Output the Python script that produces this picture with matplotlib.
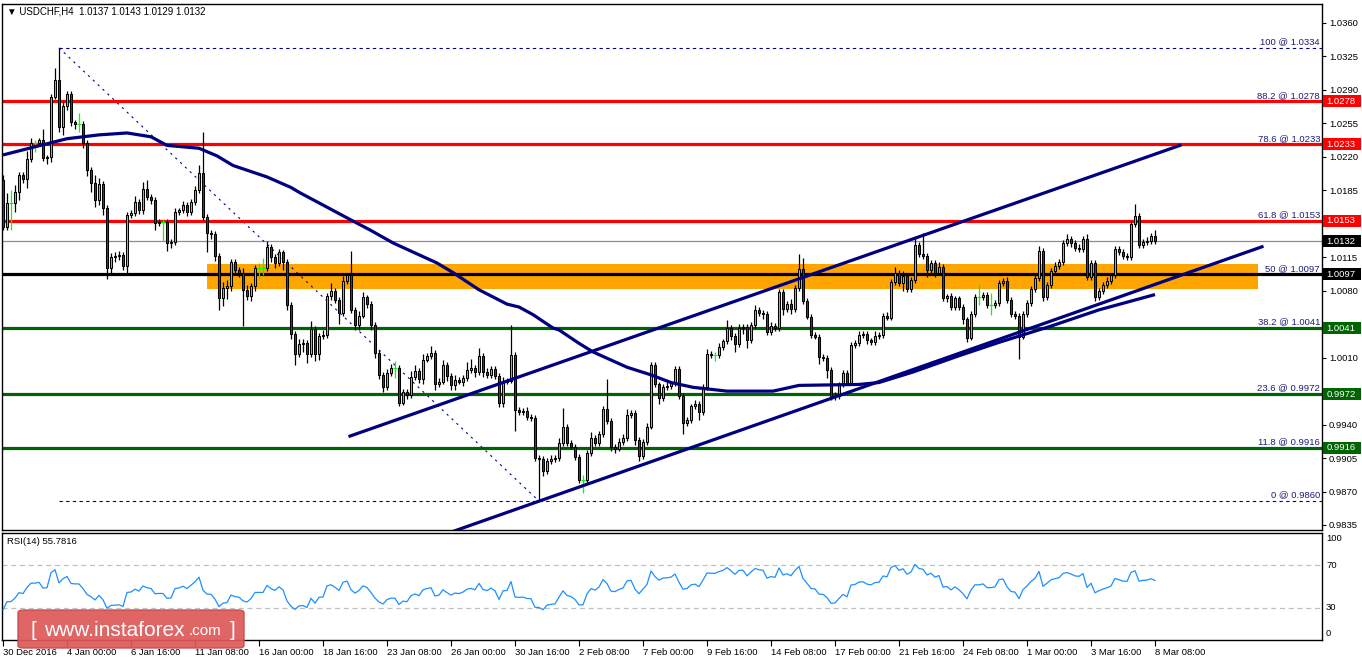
import matplotlib
matplotlib.use("Agg")
import matplotlib.pyplot as plt
import matplotlib.transforms as mtransforms
from matplotlib.patches import Rectangle, FancyBboxPatch
import numpy as np

plt.rcParams['font.family'] = ['Liberation Sans', 'DejaVu Sans']

# ---------------- data ----------------
symbol_header = "\u25BC USDCHF,H4  1.0137 1.0143 1.0129 1.0132"
first_open = 1.0196
closes = [
    1.0147, 1.0172, 1.0172, 1.0183, 1.0201, 1.0197, 1.0218, 1.0235, 1.0235, 1.0238,
    1.0219, 1.0220, 1.0283, 1.0300, 1.0251, 1.0273, 1.0286, 1.0256, 1.0254, 1.0254,
    1.0234, 1.0206, 1.0193, 1.0175, 1.0192, 1.0167, 1.0104, 1.0115, 1.0116, 1.0117,
    1.0106, 1.0159, 1.0161, 1.0173, 1.0164, 1.0186, 1.0178, 1.0175, 1.0151, 1.0152,
    1.0152, 1.0130, 1.0131, 1.0162, 1.0164, 1.0170, 1.0162, 1.0173, 1.0185, 1.0203,
    1.0157, 1.0140, 1.0139, 1.0116, 1.0072, 1.0083, 1.0085, 1.0110, 1.0102, 1.0099,
    1.0081, 1.0075, 1.0085, 1.0104, 1.0104, 1.0104, 1.0126, 1.0115, 1.0109, 1.0120,
    1.0110, 1.0065, 1.0035, 1.0014, 1.0024, 1.0025, 1.0014, 1.0040, 1.0014, 1.0033,
    1.0034, 1.0075, 1.0080, 1.0070, 1.0057, 1.0090, 1.0096, 1.0060, 1.0044, 1.0054,
    1.0073, 1.0066, 1.0044, 1.0015, 0.9992, 0.9979, 0.9994, 0.9999, 0.9999, 0.9963,
    0.9974, 0.9971, 0.9990, 0.9996, 0.9988, 1.0008, 1.0012, 1.0015, 0.9982, 0.9985,
    1.0002, 0.9991, 0.9981, 0.9987, 0.9985, 0.9989, 0.9997, 0.9999, 0.9995, 1.0012,
    0.9995, 0.9992, 0.9998, 0.9991, 0.9963, 0.9985, 0.9986, 1.0013, 0.9955, 0.9953,
    0.9954, 0.9948, 0.9947, 0.9905, 0.9904, 0.9891, 0.9902, 0.9904, 0.9905, 0.9921,
    0.9938, 0.9921, 0.9917, 0.9906, 0.9882, 0.9882, 0.9910, 0.9926, 0.9921, 0.9930,
    0.9956, 0.9944, 0.9917, 0.9915, 0.9922, 0.9926, 0.9950, 0.9952, 0.9924, 0.9907,
    0.9922, 0.9938, 1.0002, 0.9982, 0.9968, 0.9979, 0.9980, 0.9983, 0.9998, 0.9970,
    0.9942, 0.9945, 0.9959, 0.9962, 0.9953, 0.9979, 1.0014, 1.0013, 1.0013, 1.0021,
    1.0027, 1.0041, 1.0033, 1.0024, 1.0041, 1.0042, 1.0028, 1.0044, 1.0060, 1.0057,
    1.0056, 1.0037, 1.0043, 1.0041, 1.0079, 1.0061, 1.0066, 1.0061, 1.0083, 1.0103,
    1.0069, 1.0053, 1.0034, 1.0032, 1.0011, 1.0010, 0.9997, 0.9969, 0.9970, 0.9982,
    0.9994, 0.9984, 1.0023, 1.0025, 1.0034, 1.0035, 1.0028, 1.0026, 1.0033, 1.0034,
    1.0054, 1.0052, 1.0089, 1.0099, 1.0088, 1.0095, 1.0082, 1.0091, 1.0128, 1.0118,
    1.0116, 1.0102, 1.0109, 1.0099, 1.0105, 1.0072, 1.0074, 1.0063, 1.0072, 1.0063,
    1.0050, 1.0031, 1.0056, 1.0073, 1.0073, 1.0076, 1.0065, 1.0065, 1.0067, 1.0088,
    1.0090, 1.0070, 1.0056, 1.0054, 1.0032, 1.0056, 1.0067, 1.0082, 1.0093, 1.0122,
    1.0073, 1.0086, 1.0101, 1.0106, 1.0110, 1.0130, 1.0134, 1.0130, 1.0125, 1.0124,
    1.0134, 1.0094, 1.0109, 1.0073, 1.0080, 1.0086, 1.0090, 1.0096, 1.0124, 1.0120,
    1.0116, 1.0115, 1.0150, 1.0158, 1.0128, 1.0131, 1.0132, 1.0137, 1.0132,
]
# upper / lower wick lengths in pips
upper_wick = [
    5, 10, 13, 8, 3, 3, 8, 5, 3, 2,
    11, 2, 3, 13, 34, 5, 3, 3, 3, 12,
    3, 4, 3, 8, 6, 3, 3, 4, 5, 5,
    4, 3, 3, 6, 3, 8, 10, 3, 3, 3,
    3, 3, 3, 5, 3, 4, 3, 3, 5, 8,
    43, 3, 3, 3, 3, 6, 6, 3, 3, 3,
    5, 5, 3, 3, 5, 10, 6, 3, 3, 4,
    3, 3, 3, 3, 5, 5, 3, 8, 3, 3,
    5, 3, 8, 3, 3, 5, 3, 26, 3, 5,
    6, 3, 3, 3, 3, 3, 4, 4, 7, 3,
    3, 3, 6, 6, 3, 6, 3, 7, 3, 4,
    6, 3, 3, 5, 3, 3, 8, 10, 3, 8,
    3, 4, 3, 3, 3, 5, 3, 31, 3, 3,
    3, 4, 3, 3, 3, 3, 3, 4, 3, 5,
    19, 3, 3, 3, 3, 5, 3, 6, 3, 3,
    3, 32, 3, 3, 4, 4, 6, 3, 3, 3,
    3, 4, 3, 3, 3, 3, 5, 3, 3, 3,
    3, 3, 3, 4, 3, 3, 5, 3, 3, 4,
    3, 8, 3, 3, 4, 3, 3, 3, 5, 3,
    3, 3, 4, 3, 3, 3, 3, 5, 3, 15,
    11, 3, 3, 3, 3, 3, 3, 3, 4, 3,
    3, 3, 3, 3, 4, 3, 3, 3, 5, 3,
    3, 4, 3, 6, 3, 6, 3, 3, 8, 3,
    22, 3, 3, 3, 5, 3, 3, 4, 3, 3,
    3, 3, 3, 4, 14, 3, 3, 13, 3, 3,
    3, 4, 3, 3, 3, 3, 3, 3, 3, 5,
    3, 3, 3, 4, 3, 3, 5, 3, 3, 4,
    3, 5, 3, 3, 3, 3, 4, 3, 3, 3,
    4, 3, 3, 13, 3, 3, 4, 3, 6,
]
lower_wick = [
    4, 4, 29, 10, 8, 4, 10, 3, 10, 4,
    3, 6, 5, 3, 5, 8, 4, 4, 5, 8,
    5, 6, 10, 7, 5, 8, 12, 8, 5, 4,
    4, 8, 3, 3, 4, 4, 3, 4, 8, 3,
    20, 8, 5, 3, 3, 3, 4, 3, 3, 3,
    3, 20, 5, 5, 12, 8, 12, 5, 5, 5,
    38, 5, 6, 5, 12, 8, 3, 5, 5, 3,
    8, 5, 5, 12, 3, 8, 10, 3, 8, 6,
    3, 3, 5, 3, 12, 3, 3, 3, 5, 5,
    3, 4, 5, 5, 4, 5, 3, 3, 10, 4,
    3, 4, 3, 3, 5, 6, 3, 3, 6, 3,
    3, 5, 5, 5, 3, 5, 3, 3, 5, 3,
    5, 3, 3, 3, 5, 5, 3, 3, 22, 3,
    3, 3, 3, 3, 44, 5, 3, 3, 3, 3,
    3, 3, 3, 3, 3, 14, 3, 3, 3, 3,
    3, 3, 5, 5, 3, 3, 3, 3, 5, 5,
    3, 3, 3, 3, 6, 3, 3, 3, 3, 3,
    12, 3, 3, 3, 8, 3, 3, 3, 6, 3,
    3, 3, 5, 8, 3, 6, 8, 3, 3, 3,
    6, 3, 3, 3, 3, 6, 3, 5, 3, 3,
    3, 3, 3, 3, 8, 3, 8, 3, 3, 3,
    3, 3, 3, 3, 3, 3, 4, 3, 3, 3,
    3, 3, 3, 3, 3, 8, 3, 3, 3, 3,
    3, 8, 3, 5, 3, 3, 4, 3, 3, 3,
    5, 5, 3, 3, 8, 3, 3, 10, 3, 3,
    3, 3, 3, 4, 23, 3, 3, 3, 3, 3,
    4, 3, 3, 3, 3, 3, 3, 4, 3, 3,
    3, 3, 3, 4, 3, 3, 3, 3, 3, 3,
    3, 3, 3, 3, 3, 3, 3, 3, 3,
]

# moving average (at bar positions)
ma_bars = [0, 7.5, 16, 24, 31, 37, 41, 49, 53.5, 57.5, 66, 72, 74, 87, 92, 97.5,
           108.5, 112.5, 119, 126, 129, 132.5, 137.5, 139, 144, 147.5, 156, 162,
           167, 172.5, 181, 192.5, 199, 214, 219, 227.5, 239, 249, 262, 274, 288]
ma_values = [1.0222, 1.0230, 1.0239, 1.0243, 1.0245, 1.0241, 1.0232, 1.0229, 1.0221,
             1.0211, 1.0199, 1.0188, 1.0183, 1.0154, 1.0143, 1.0130, 1.0109, 1.0099,
             1.0081, 1.0066, 1.0063, 1.0055, 1.0041, 1.0039, 1.0025, 1.0016, 1.0000,
             0.9992, 0.9984, 0.9979, 0.9975, 0.9975, 0.9981, 0.9982, 0.9984, 0.9995,
             1.0012, 1.0026, 1.0043, 1.0060, 1.0076]

# channel trend lines (bar, price) end points
upper_channel_bars = [86.75, 294.25]
upper_channel_prices = [0.9928, 1.0232]
lower_channel_bars = [113, 314.75]
lower_channel_prices = [0.9829, 1.0126]

# fibonacci
fib_start_bar, fib_end_bar = 14, 134
fib_levels = ["100", "88.2", "78.6", "61.8", "50", "38.2", "23.6", "11.8", "0"]
fib_prices = [1.0334, 1.0278, 1.0233, 1.0153, 1.0097, 1.0041, 0.9972, 0.9916, 0.9860]
fib_colors = [None, '#FF0000', '#FF0000', '#FF0000', '#000000', '#006400', '#006400', '#006400', None]

current_price = 1.0132
zone_low, zone_high = 1.0082, 1.0108
zone_start_bar, zone_end_bar = 51, 313.75

price_ticks = [1.0360, 1.0325, 1.0290, 1.0255, 1.0220, 1.0185, 1.0150, 1.0115,
               1.0080, 1.0045, 1.0010, 0.9975, 0.9940, 0.9905, 0.9870, 0.9835]
price_tick_labels = ["1.0360", "1.0325", "1.0290", "1.0255", "1.0220", "1.0185", "",
                     "1.0115", "1.0080", "", "1.0010", "0.9975", "0.9940", "0.9905",
                     "0.9870", "0.9835"]
time_tick_bars = [0, 16, 32, 48, 64, 80, 96, 112, 128, 144, 160, 176, 192, 208,
                  224, 240, 256, 272, 288]
time_tick_labels = ["30 Dec 2016", "4 Jan 00:00", "6 Jan 16:00", "11 Jan 08:00",
                    "16 Jan 00:00", "18 Jan 16:00", "23 Jan 08:00", "26 Jan 00:00",
                    "30 Jan 16:00", "2 Feb 08:00", "7 Feb 00:00", "9 Feb 16:00",
                    "14 Feb 08:00", "17 Feb 00:00", "21 Feb 16:00", "24 Feb 08:00",
                    "1 Mar 00:00", "3 Mar 16:00", "8 Mar 08:00"]
rsi_label = "RSI(14) 55.7816"
rsi_period = 14
# average gain / loss carried into the first bar (RSI about 28 at the left edge)
rsi_seed_gain, rsi_seed_loss = 0.00045, 0.00115

# ---------------- figure ----------------
W, H = 1362, 661
fig = plt.figure(figsize=(W / 100, H / 100), dpi=100)
fig.patch.set_facecolor('white')


def rect(x0, y0, x1, y1):
    return [x0 / W, 1 - y1 / H, (x1 - x0) / W, (y1 - y0) / H]


ax = fig.add_axes(rect(2, 4, 1322, 530))
rx = fig.add_axes(rect(2, 533, 1322, 640), sharex=ax)

pip_px = 0.0525 / 502.0
ax.set_ylim(0.9835 - 5 * pip_px, 1.0360 + 19 * pip_px)
ax.set_xlim(-0.25, 329.75)

n = len(closes)
x = np.arange(n)
c = np.array(closes)
o = np.concatenate([[first_open], c[:-1]])
hi = np.maximum(o, c) + np.array(upper_wick) * 1e-4
lo = np.minimum(o, c) - np.array(lower_wick) * 1e-4

# background objects
ax.add_patch(Rectangle((zone_start_bar, zone_low), zone_end_bar - zone_start_bar,
                       zone_high - zone_low, facecolor='#FFA500', edgecolor='none', zorder=1))
ax.axhline(current_price, color='#8a8f94', lw=0.9, zorder=1.5)
for lev, p, col in zip(fib_levels, fib_prices, fib_colors):
    if col is None:
        ax.plot([fib_start_bar, 400], [p, p], color='#000080', lw=0.8,
                dashes=(3, 3), zorder=1.6)
    else:
        ax.axhline(p, color=col, lw=2.3, zorder=1.8)
ax.plot([fib_start_bar, fib_end_bar], [fib_prices[0], fib_prices[-1]], color='#000080',
        lw=0.8, dashes=(2, 4), zorder=1.6)

# candles
doji = np.abs(c - o) < 0.5e-4
normal = ~doji
ax.vlines(x[normal], lo[normal], hi[normal], color='black', lw=0.9, zorder=3)
ax.vlines(x[doji], lo[doji], hi[doji], color='#00FF00', lw=0.9, zorder=3)
ax.hlines(c[doji], x[doji] - 0.45, x[doji] + 0.45, color='#00FF00', lw=0.9, zorder=3.1)
up = (c > o) & normal
dn = (c < o) & normal
ax.bar(x[up], (c - o)[up], bottom=o[up], width=0.6, color='#9ACD32',
       edgecolor='black', linewidth=0.75, zorder=3.2)
ax.bar(x[dn], (o - c)[dn], bottom=c[dn], width=0.6, color='#E00000',
       edgecolor='black', linewidth=0.75, zorder=3.2)

# indicator & trend lines
ax.plot(ma_bars, ma_values, color='#000080', lw=2.3, zorder=4, solid_capstyle='butt')
ax.plot(upper_channel_bars, upper_channel_prices, color='#000080', lw=2.3, zorder=4)
ax.plot(lower_channel_bars, lower_channel_prices, color='#000080', lw=2.3, zorder=4)

# fib labels
for lev, p in zip(fib_levels, fib_prices):
    ax.annotate(f"{lev} @ {p:.4f}", xy=(1.0, p), xycoords=('axes fraction', 'data'),
                xytext=(-2, 1.5), textcoords='offset pixels', ha='right', va='bottom',
                fontsize=6.8, color='#1c1c7a', zorder=5)

# price axis
ax.yaxis.tick_right()
ax.set_yticks(price_ticks)
ax.set_yticklabels(price_tick_labels)
ax.tick_params(axis='y', length=3, width=0.8, pad=2, labelsize=6.8, colors='black')
ax.tick_params(axis='x', bottom=False, labelbottom=False)
for s in ax.spines.values():
    s.set_color('black')
    s.set_linewidth(1.0)

# price boxes on the axis
blend = mtransforms.blended_transform_factory(ax.transAxes, ax.transData)
box_w = 38 / 1320.0
box_h = 12 * pip_px
boxes = [(p, col) for p, col in zip(fib_prices, fib_colors) if col is not None]
boxes.append((current_price, '#000000'))
for p, col in boxes:
    ax.add_patch(Rectangle((1.0008, p - box_h / 2), box_w, box_h, transform=blend,
                           facecolor=col, edgecolor='none', clip_on=False, zorder=6))
    ax.text(1.0008 + 3.5 / 1320, p, f"{p:.4f}", transform=blend, color='white',
            fontsize=6.8, va='center', ha='left', clip_on=False, zorder=7)

ax.text(5 / 1320, 1 - 7 / 526, symbol_header, transform=ax.transAxes, fontsize=7,
        va='center', ha='left', color='black')

# ---------------- RSI ----------------
d = np.diff(c)
gain = np.clip(d, 0, None)
loss = np.clip(-d, 0, None)
rsi = np.full(n, np.nan)
ag, al = rsi_seed_gain, rsi_seed_loss
rsi[0] = 100 * ag / (ag + al)
for i in range(1, n):
    ag = (ag * (rsi_period - 1) + gain[i - 1]) / rsi_period
    al = (al * (rsi_period - 1) + loss[i - 1]) / rsi_period
    rsi[i] = 100 * ag / (ag + al)

rx.set_ylim(0, 100)
rx.plot(x, rsi, color='#1E90FF', lw=0.9, zorder=3)
for lvl in (30, 70):
    rx.axhline(lvl, color='#c0c0c0', lw=0.9, dashes=(4, 3), zorder=1)
rx.set_yticks([])
for s in rx.spines.values():
    s.set_color('black')
    s.set_linewidth(1.0)
rtrans = mtransforms.blended_transform_factory(rx.transAxes, rx.transData)
for lab, yv in (("100", 94.5), ("70", 70), ("30", 30), ("0", 6.5)):
    rx.text(1.0 + 4 / 1320, yv, lab, transform=rtrans, fontsize=6.8, va='center',
            ha='left', clip_on=False)
rx.text(5 / 1320, 1 - 8 / 107, rsi_label, transform=rx.transAxes, fontsize=6.8,
        va='center', ha='left')

rx.set_xticks(time_tick_bars)
rx.set_xticklabels(time_tick_labels)
rx.tick_params(axis='x', length=4, width=0.8, pad=1.5, labelsize=6.8, direction='out')
for lbl in rx.get_xticklabels():
    lbl.set_ha('left')

# watermark
fig.patches.append(FancyBboxPatch((18 / W, 1 - 648 / H), 226 / W, 38 / H,
                                  boxstyle='round,pad=0,rounding_size=0.004',
                                  transform=fig.transFigure, facecolor='#de5a5a',
                                  edgecolor='#c44b4b', lw=1.0, alpha=0.93, zorder=10))
fig.text(33 / W, 1 - 630 / H, "[", color='white', fontsize=15, va='center', ha='center', zorder=11)
fig.text(44 / W, 1 - 630 / H, "www.instaforex", color='white', fontsize=15, va='center',
         ha='left', zorder=11)
fig.text(189 / W, 1 - 631 / H, ".com", color='white', fontsize=11, va='center', ha='left',
         zorder=11)
fig.text(233 / W, 1 - 630 / H, "]", color='white', fontsize=15, va='center', ha='center', zorder=11)

fig.savefig("out.png", dpi=100)
